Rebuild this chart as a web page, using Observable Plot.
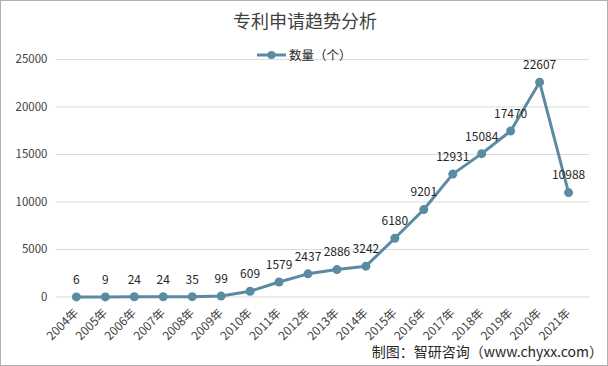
<!DOCTYPE html>
<html>
<head>
<meta charset="utf-8">
<script src="https://cdn.jsdelivr.net/npm/d3@7"></script>
<script src="https://cdn.jsdelivr.net/npm/@observablehq/plot@0.6"></script>
<style>
  html, body { margin: 0; padding: 0; background: #fff; }
  #wrap { position: relative; width: 606px; height: 364px; border: 1px solid #b0b0b0; overflow: hidden; font-family: "Noto Sans CJK SC", "Noto Sans", sans-serif; }
  #chart { position: absolute; left: -1px; top: -1px; }
  #title { position: absolute; left: 0; width: 608px; top: 6px; text-align: center; font-size: 18px; color: #404040; font-weight: 400; }
  #legend { position: absolute; left: 256px; top: 44px; font-size: 12.5px; color: #262626; display: flex; align-items: center; }
  #caption { position: absolute; right: 4px; top: 340px; font-size: 14px; color: #262626; }
</style>
</head>
<body>
<div id="wrap">
  <div id="chart"></div>
  <div id="title">专利申请趋势分析</div>
  <div id="legend"><svg width="30" height="12" style="margin-right:2px"><line x1="0" y1="6" x2="29" y2="6" stroke="#5b8ba2" stroke-width="3"/><circle cx="14.5" cy="6" r="4" fill="#5b8ba2"/></svg><span>数量（个）</span></div>
  <div id="caption">制图：智研咨询（www.chyxx.com）</div>
</div>
<script>
const years = ["2004年","2005年","2006年","2007年","2008年","2009年","2010年","2011年","2012年","2013年","2014年","2015年","2016年","2017年","2018年","2019年","2020年","2021年"];
const counts = [6, 9, 24, 24, 35, 99, 609, 1579, 2437, 2886, 3242, 6180, 9201, 12931, 15084, 17470, 22607, 10988];
const yTicks = [0, 5000, 10000, 15000, 20000, 25000];

const data = years.map((y, i) => ({year: y, value: counts[i]}));
const color = "#5b8ba2";

const chart = Plot.plot({
  width: 608,
  height: 366,
  marginLeft: 56,
  marginRight: 18,
  marginTop: 59,
  marginBottom: 69,
  style: { fontFamily: "'Noto Sans CJK SC', 'Noto Sans', sans-serif", fontSize: "11px", color: "#404040", background: "transparent" },
  x: { type: "point", domain: years, range: [71, 574], padding: 0, label: null },
  y: { domain: [0, 25000], label: null },
  marks: [
    Plot.ruleY(yTicks, { stroke: "#d9d9d9", strokeWidth: 1 }),
    Plot.axisY({ ticks: yTicks, tickSize: 0, tickPadding: 9, fontSize: 11.5, tickFormat: d => String(d), label: null }),
    Plot.axisX({ tickSize: 0, tickRotate: -45, tickPadding: 14, fontSize: 12, label: null }),
    Plot.line(data, { x: "year", y: "value", stroke: color, strokeWidth: 3 }),
    Plot.dot(data, { x: "year", y: "value", r: 4.5, fill: color }),
    Plot.text(data, { x: "year", y: "value", text: d => String(d.value), dy: -17, fontSize: 12, fill: "#262626" })
  ]
});
document.getElementById("chart").appendChild(chart);
</script>
</body>
</html>
